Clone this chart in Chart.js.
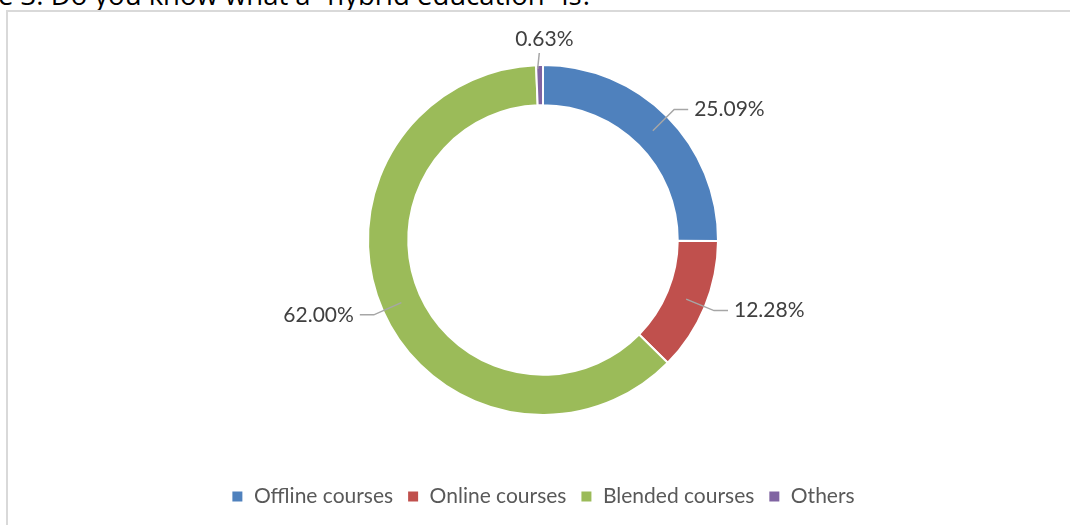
<!DOCTYPE html>
<html>
<head>
<meta charset="utf-8">
<script src="https://cdn.jsdelivr.net/npm/chart.js@4"></script>
<style>
  body { margin: 0; background: #fff; overflow: hidden; }
  #caption {
    position: absolute; left: -2px; top: -19px; white-space: nowrap;
    font: 27.5px "Open Sans", sans-serif; color: #000; line-height: 28px;
  }
  #frame {
    position: absolute; left: 6px; top: 10px; width: 1090px; height: 540px;
    border: 2px solid #d9d9d9; background: #fff;
  }
  #wrap { position: absolute; left: 0; top: 0; width: 1070px; height: 525px; }
</style>
</head>
<body>
<div id="caption">e 3: Do you know what a “hybrid education” is?</div>
<div id="frame"></div>
<div id="wrap"><canvas id="chart"></canvas></div>
<script>
const categories = ["Offline courses", "Online courses", "Blended courses", "Others"];
const shares = [25.09, 12.28, 62.00, 0.63];
const shareLabels = ["25.09%", "12.28%", "62.00%", "0.63%"];
const colors = ["#4F81BD", "#C0504D", "#9BBB59", "#8064A2"];

const FONT = "Lato, 'Open Sans', sans-serif";

// draws the percentage labels with small elbow leader lines
const leaderLabels = {
  id: "leaderLabels",
  afterDatasetsDraw(chart) {
    const ctx = chart.ctx;
    const meta = chart.getDatasetMeta(0);
    ctx.save();
    ctx.font = "21px " + FONT;
    ctx.fillStyle = "#404040";
    ctx.strokeStyle = "#a6a6a6";
    ctx.lineWidth = 1.5;
    meta.data.forEach((arc, i) => {
      const { x, y, innerRadius, outerRadius, startAngle, endAngle } = arc.getProps(
        ["x", "y", "innerRadius", "outerRadius", "startAngle", "endAngle"], true);
      const mid = (startAngle + endAngle) / 2;
      const cos = Math.cos(mid), sin = Math.sin(mid);
      if (Math.abs(cos) < 0.15) {
        // near vertical: label sits straight above
        const r0 = outerRadius - 4, r1 = outerRadius + 12;
        ctx.beginPath();
        ctx.moveTo(x + cos * r0 - 2, y + sin * r0);
        ctx.lineTo(x + cos * r1, y + sin * r1);
        ctx.stroke();
        ctx.textAlign = "center";
        ctx.textBaseline = "bottom";
        ctx.fillText(shareLabels[i], x + cos * r1 + 5, y + sin * r1 - 3);
        return;
      }
      const r0 = (innerRadius + outerRadius) / 2;
      const r1 = outerRadius + 10;
      const sx = x + cos * r0, sy = y + sin * r0;
      const ex = x + cos * r1, ey = y + sin * r1;
      const dir = cos > 0 ? 1 : -1;
      const hx = ex + dir * 14;
      ctx.beginPath();
      ctx.moveTo(sx, sy);
      ctx.lineTo(ex, ey);
      ctx.lineTo(hx, ey);
      ctx.stroke();
      ctx.textAlign = dir > 0 ? "left" : "right";
      ctx.textBaseline = "middle";
      ctx.fillText(shareLabels[i], hx + dir * 6, ey);
    });
    ctx.restore();
  }
};

new Chart(document.getElementById("chart"), {
  type: "doughnut",
  data: {
    labels: categories,
    datasets: [{
      data: shares,
      backgroundColor: colors,
      borderColor: "#ffffff",
      borderWidth: 2
    }]
  },
  options: {
    responsive: true,
    maintainAspectRatio: false,
    animation: false,
    radius: 175,
    cutout: "77%",
    layout: { padding: { left: 16, right: 0, top: 8, bottom: 8 } },
    plugins: {
      legend: {
        position: "bottom",
        labels: {
          boxWidth: 12,
          boxHeight: 12,
          padding: 14,
          color: "#595959",
          font: { family: FONT, size: 21 }
        }
      },
      tooltip: { enabled: false }
    }
  },
  plugins: [leaderLabels]
});
</script>
</body>
</html>
